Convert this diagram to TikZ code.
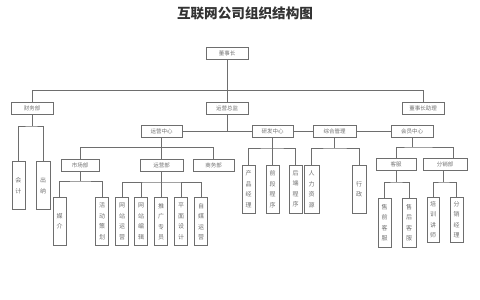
\documentclass[tikz,border=0pt]{standalone}
\usepackage{fontspec}
\newfontfamily\cjk{Noto Sans CJK SC}
\definecolor{linegray}{HTML}{6E6E6E}
\definecolor{textgray}{HTML}{707070}
\tikzset{
  hbox/.style={draw=linegray, line width=0.8pt, minimum width=42pt, minimum height=12pt,
    inner sep=0pt, text=textgray, font=\cjk\fontsize{5.5}{6}\selectfont},
  vbox/.style={draw=linegray, line width=0.8pt, minimum width=13pt, minimum height=48pt,
    inner sep=0pt, align=center, text=textgray, font=\cjk\fontsize{6}{10.5}\selectfont},
  link/.style={draw=linegray, line width=0.8pt}
}
\begin{document}
\begin{tikzpicture}[x=1pt, y=-1pt]
    \useasboundingbox (0,0) rectangle (480,300);
    \node[font=\cjk\bfseries\fontsize{13.6}{14}\selectfont, text=black!80] (title) at (245,13) {互联网公司组织结构图};

    % top level
    \node[hbox] (chair) at (227,53.5) {董事长};
    \node[hbox] (fin) at (32,108) {财务部};
    \node[hbox] (coo) at (227,108) {运营总监};
    \node[hbox] (asst) at (423,108) {董事长助理};
    \draw[link] (chair) -- (coo);
    \draw[link] (fin.north) -- ++(0,-11) -| (asst.north);

    % centres
    \node[hbox, minimum width=41pt] (opsc) at (161.5,131) {运营中心};
    \node[hbox, minimum width=41pt] (rndc) at (272.5,131) {研发中心};
    \node[hbox, minimum width=43pt] (admc) at (334.5,131) {综合管理};
    \node[hbox] (memc) at (412,131) {会员中心};
    \draw[link] (coo) -- (coo |- opsc);
    \draw[link] (opsc) -- (rndc);
    \draw[link] (rndc) -- (admc);
    \draw[link] (admc) -- (memc);

    % finance
    \node[vbox] (acct) at (18.5,185.5) {会\\计};
    \node[vbox, minimum width=14pt] (cash) at (43,185.5) {出\\纳};
    \coordinate (finbar) at (32,126);
    \draw[link] (fin) -- (finbar);
    \draw[link] (acct.north) |- (finbar) -| (cash.north);

    % operations centre
    \node[hbox, minimum width=38pt] (mkt) at (80,165) {市场部};
    \node[hbox, minimum width=43pt] (opsd) at (161.5,165) {运营部};
    \node[hbox, minimum width=41pt] (biz) at (213.5,165) {商务部};
    \draw[link] (opsc) -- (opsd);
    \draw[link] (mkt.north) -- ++(0,-11) -| (biz.north);

    \node[vbox] (media) at (59.5,221) {媒\\介};
    \node[vbox] (event) at (102,221) {活\\动\\策\\划};
    \coordinate (mktbar) at (80,181);
    \draw[link] (mkt) -- (mktbar);
    \draw[link] (media.north) |- (mktbar) -| (event.north);

    \node[vbox] (webop) at (122,221.5) {网\\站\\运\\营};
    \node[vbox] (webed) at (141,221.5) {网\\站\\编\\辑};
    \node[vbox] (promo) at (161,221.5) {推\\广\\专\\员};
    \node[vbox] (design) at (181,221.5) {平\\面\\设\\计};
    \node[vbox] (selfm) at (201,221.5) {自\\媒\\运\\营};
    \coordinate (opsdbar) at (161.5,182);
    \draw[link] (opsd) -- (opsdbar);
    \draw[link] (webop.north) |- (opsdbar) -| (selfm.north);
    \foreach \c in {webed,promo,design}
        \draw[link] (\c.north) -- (\c.north |- opsdbar);

    % r&d centre
    \node[vbox] (pm) at (248.5,189) {产\\品\\经\\理};
    \node[vbox] (fe) at (272.5,189) {前\\段\\程\\序};
    \node[vbox] (be) at (295.5,189) {后\\端\\程\\序};
    \coordinate (rndbar) at (272.5,148);
    \draw[link] (rndc) -- (fe);
    \draw[link] (pm.north) |- (rndbar) -| (be.north);

    % admin
    \node[vbox, minimum width=15pt] (hr) at (311.5,189) {人\\力\\资\\源};
    \node[vbox, minimum width=14pt] (gov) at (359,189) {行\\政};
    \coordinate (admbar) at (334.5,148);
    \draw[link] (admc) -- (admbar);
    \draw[link] (hr.north) |- (admbar) -| (gov.north);

    % members centre
    \node[hbox, minimum width=40pt] (cs) at (396,164) {客服};
    \node[hbox, minimum width=44pt] (dist) at (445,164) {分销部};
    \coordinate (membar) at (412,147);
    \draw[link] (memc) -- (membar);
    \draw[link] (cs.north) |- (membar) -| ([xshift=8pt]dist.north);

    \node[vbox, minimum height=49pt] (pre) at (384.5,222.5) {售\\前\\客\\服};
    \node[vbox, minimum width=14pt, minimum height=49pt] (post) at (409,222.5) {售\\后\\客\\服};
    \coordinate (csbar) at (396,182);
    \draw[link] (cs) -- (csbar);
    \draw[link] (pre.north) |- (csbar) -| (post.north);

    \node[vbox, minimum width=12pt, minimum height=45pt] (train) at (433,219.5) {培\\训\\讲\\师};
    \node[vbox, minimum height=45pt] (distm) at (456.5,219.5) {分\\销\\经\\理};
    \coordinate (distbar) at (443,182);
    \draw[link] ([xshift=-2pt]dist.south) -- (distbar);
    \draw[link] (train.north) |- (distbar) -| (distm.north);
\end{tikzpicture}
\end{document}
